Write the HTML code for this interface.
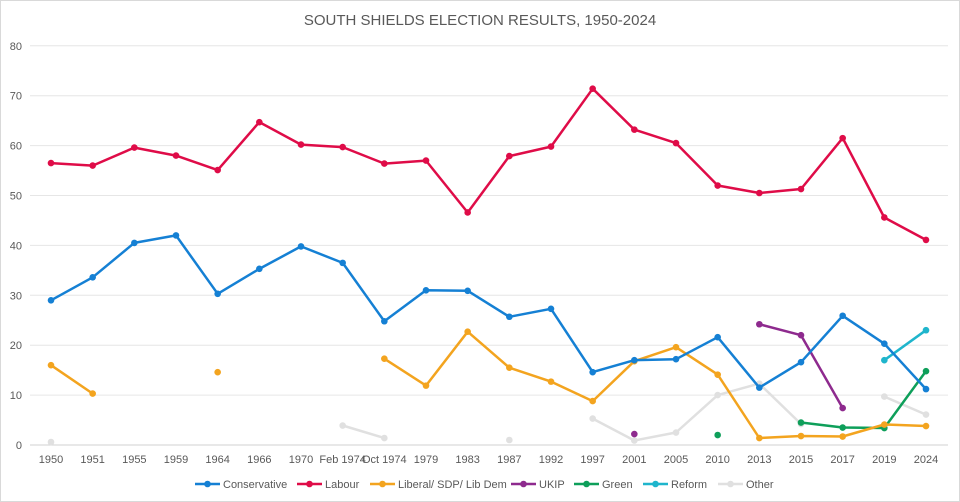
<!DOCTYPE html><html><head><meta charset="utf-8"><style>body{margin:0;background:#fff}svg{font-family:"Liberation Sans",sans-serif;display:block}</style></head><body>
<svg id="s" width="960" height="502" viewBox="0 0 960 502"></svg>
<script>
const s=document.getElementById('s');let h='<rect x="0.5" y="0.5" width="959" height="501" fill="#fff" stroke="#d9d9d9"/>';
h+='<text x="480" y="25" text-anchor="middle" font-size="15" fill="#595959">SOUTH SHIELDS ELECTION RESULTS, 1950-2024</text>';
const X0=51,DX=875/21,Y=v=>445-v*4.99,X=i=>X0+DX*i;
for(let v=0;v<=80;v+=10){const y=Y(v);h+=`<line x1="30" x2="948" y1="${y}" y2="${y}" stroke="${v?'#e6e6e6':'#d0d0d0'}"/><text x="22" y="${y+4}" text-anchor="end" font-size="11" fill="#595959">${v}</text>`;}
const cats=['1950','1951','1955','1959','1964','1966','1970','Feb 1974','Oct 1974','1979','1983','1987','1992','1997','2001','2005','2010','2013','2015','2017','2019','2024'];
cats.forEach((c,i)=>h+=`<text x="${X(i)}" y="463" text-anchor="middle" font-size="11" fill="#595959">${c}</text>`);
const n=null;
const ser=[
['#e0e0e0',[0.6,n,n,n,n,n,n,3.9,1.4,n,n,1,n,5.3,0.9,2.5,10,12.3,4.2,n,9.7,6.1]],
['#1fb5cc',[n,n,n,n,n,n,n,n,n,n,n,n,n,n,n,n,n,n,n,n,17,23]],
['#0e9f5a',[n,n,n,n,n,n,n,n,n,n,n,n,n,n,n,n,2,n,4.5,3.5,3.4,14.8]],
['#f3a41f',[16,10.3,n,n,14.6,n,n,n,17.3,11.9,22.7,15.5,12.7,8.8,16.8,19.6,14.1,1.4,1.8,1.7,4.1,3.8]],
['#8e2a8e',[n,n,n,n,n,n,n,n,n,n,n,n,n,n,2.2,n,n,24.2,22,7.4,n,n]],
['#1580d4',[29,33.6,40.5,42,30.3,35.3,39.8,36.5,24.8,31,30.9,25.7,27.3,14.6,17,17.2,21.6,11.5,16.6,25.9,20.3,11.2]],
['#df0c48',[56.5,56,59.6,58,55.1,64.7,60.2,59.7,56.4,57,46.6,57.9,59.8,71.4,63.2,60.5,52,50.5,51.3,61.5,45.6,41.1]]];
ser.forEach(([c,d])=>{let p='';d.forEach((v,i)=>{if(v==null)return;p+=(i>0&&d[i-1]!=null?'L':'M')+X(i).toFixed(1)+' '+Y(v).toFixed(1);});
h+=`<path d="${p}" fill="none" stroke="${c}" stroke-width="2.5" stroke-linejoin="round"/>`;
d.forEach((v,i)=>{if(v!=null)h+=`<circle cx="${X(i)}" cy="${Y(v)}" r="3.3" fill="${c}"/>`;});});
const leg=[['Conservative','#1580d4',195],['Labour','#df0c48',297],['Liberal/ SDP/ Lib  Dem','#f3a41f',370],['UKIP','#8e2a8e',511],['Green','#0e9f5a',574],['Reform','#1fb5cc',643],['Other','#e0e0e0',718]];
leg.forEach(([t,c,x])=>h+=`<line x1="${x}" x2="${x+25}" y1="484" y2="484" stroke="${c}" stroke-width="2.5"/><circle cx="${x+12.5}" cy="484" r="3.3" fill="${c}"/><text x="${x+28}" y="488" font-size="11" fill="#595959">${t}</text>`);
s.innerHTML=h;
</script></body></html>
